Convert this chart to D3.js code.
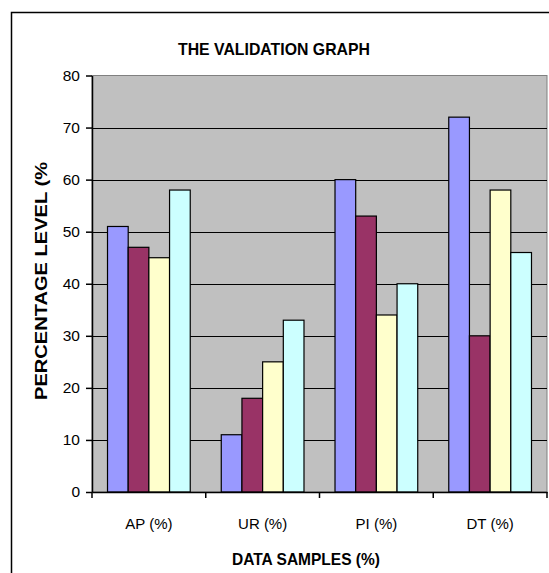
<!DOCTYPE html>
<html>
<head>
<meta charset="utf-8">
<script src="https://cdn.jsdelivr.net/npm/d3@7/dist/d3.min.js"></script>
<style>
  body { margin: 0; background: #fff; }
  svg { display: block; font-family: "Liberation Sans", Arial, sans-serif; }
</style>
</head>
<body>
<div class="chart"></div>
<script>
const W = 549, H = 573;
const categories = ["AP (%)", "UR (%)", "PI (%)", "DT (%)"];
const seriesNames = ["S1", "S2", "S3", "S4"];
const s1 = [51, 11, 60, 72];
const s2 = [47, 18, 53, 30];
const s3 = [45, 25, 34, 58];
const s4 = [58, 33, 40, 46];
const yTicks = [0, 10, 20, 30, 40, 50, 60, 70, 80];
const colors = ["#9999FF", "#993366", "#FFFFCC", "#CCFFFF"];

const series = [s1, s2, s3, s4];
const plot = {left: 92, right: 547, top: 75.5, bottom: 492};

const svg = d3.select(".chart").append("svg")
    .attr("width", W)
    .attr("height", H);

// outer chart frame (runs off right and bottom)
svg.append("rect")
    .attr("x", 11.5).attr("y", 12.5)
    .attr("width", W + 10).attr("height", H + 10)
    .attr("fill", "#fff")
    .attr("stroke", "#000")
    .attr("stroke-width", 1.5);

const x = d3.scaleBand()
    .domain(categories)
    .range([plot.left, plot.right])
    .padding(0);
const xs = d3.scaleBand()
    .domain(seriesNames)
    .range([0, x.bandwidth()])
    .paddingInner(0)
    .paddingOuter(0.75);
const y = d3.scaleLinear()
    .domain([0, 80])
    .range([plot.bottom, plot.top]);

// plot background
svg.append("rect")
    .attr("x", plot.left).attr("y", plot.top)
    .attr("width", plot.right - plot.left)
    .attr("height", plot.bottom - plot.top)
    .attr("fill", "#C0C0C0")
    .attr("stroke", "#808080")
    .attr("stroke-width", 1);

// gridlines
svg.append("g")
    .selectAll("line")
    .data(yTicks.filter(d => d > 0 && d < 80))
    .enter()
    .append("line")
    .attr("x1", plot.left).attr("x2", plot.right)
    .attr("y1", d => Math.round(y(d)) + 0.5)
    .attr("y2", d => Math.round(y(d)) + 0.5)
    .attr("stroke", "#000")
    .attr("stroke-width", 1.2);

// bars
const groups = svg.append("g")
    .selectAll("g")
    .data(categories)
    .enter()
    .append("g")
    .attr("transform", d => `translate(${x(d)},0)`);

groups.selectAll("rect")
    .data((d, i) => series.map((s, j) => ({name: seriesNames[j], value: s[i], color: colors[j]})))
    .enter()
    .append("rect")
    .attr("x", d => xs(d.name))
    .attr("y", d => y(d.value))
    .attr("width", xs.bandwidth())
    .attr("height", d => plot.bottom - y(d.value))
    .attr("fill", d => d.color)
    .attr("stroke", "#000")
    .attr("stroke-width", 1.2);

// y axis
const yAxis = svg.append("g")
    .attr("transform", `translate(${plot.left},0)`)
    .call(d3.axisLeft(y).tickValues(yTicks).tickSize(6).tickPadding(6).tickSizeOuter(0));
yAxis.select(".domain").attr("stroke", "#000").attr("stroke-width", 1.5);
yAxis.selectAll(".tick line").attr("stroke", "#000").attr("stroke-width", 1.5);
yAxis.selectAll(".tick text")
    .attr("font-size", "15.5px")
    .attr("fill", "#000")
    .attr("font-family", "Liberation Sans, Arial, sans-serif");

// x axis
const xAxis = svg.append("g")
    .attr("transform", `translate(0,${plot.bottom})`)
    .call(d3.axisBottom(x).tickSize(0).tickPadding(26));
xAxis.select(".domain").attr("stroke", "#000").attr("stroke-width", 1.5);
xAxis.selectAll(".tick text")
    .attr("font-size", "15px")
    .attr("fill", "#000")
    .attr("font-family", "Liberation Sans, Arial, sans-serif");

// category boundary ticks
const bounds = categories.map(c => x(c)).concat([plot.right]);
xAxis.append("g")
    .selectAll("line")
    .data(bounds)
    .enter()
    .append("line")
    .attr("x1", d => d).attr("x2", d => d)
    .attr("y1", 0).attr("y2", 6)
    .attr("stroke", "#000")
    .attr("stroke-width", 1.5);

// titles
svg.append("text")
    .attr("x", 274).attr("y", 55)
    .attr("text-anchor", "middle")
    .attr("font-size", "17px")
    .attr("font-weight", "bold")
    .attr("textLength", 192)
    .attr("lengthAdjust", "spacingAndGlyphs")
    .text("THE VALIDATION GRAPH");

svg.append("text")
    .attr("x", 306).attr("y", 565)
    .attr("text-anchor", "middle")
    .attr("font-size", "17px")
    .attr("font-weight", "bold")
    .attr("textLength", 148)
    .attr("lengthAdjust", "spacingAndGlyphs")
    .text("DATA SAMPLES (%)");

svg.append("text")
    .attr("transform", "translate(47,281) rotate(-90)")
    .attr("text-anchor", "middle")
    .attr("font-size", "17px")
    .attr("font-weight", "bold")
    .attr("textLength", 238)
    .attr("lengthAdjust", "spacingAndGlyphs")
    .text("PERCENTAGE LEVEL  (%");
</script>
</body>
</html>
